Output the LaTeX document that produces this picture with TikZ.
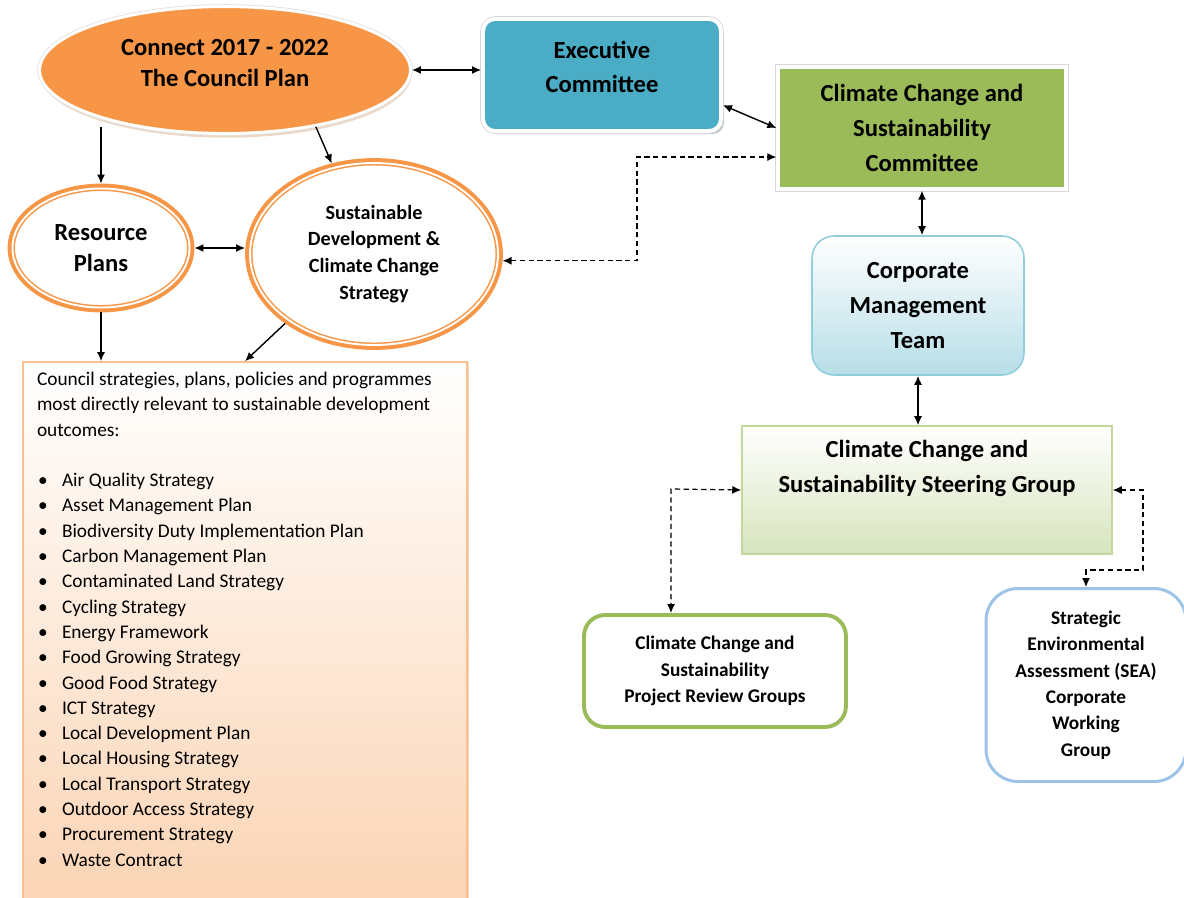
\documentclass[tikz,border=0pt]{standalone}
\usepackage{fontspec}
\setmainfont{Carlito}
\usepackage{tikz}
\usetikzlibrary{shapes,shapes.geometric,shadows,arrows.meta}

\definecolor{planorange}{HTML}{F79646}
\definecolor{execblue}{HTML}{4BACC6}
\definecolor{commgreen}{HTML}{9BBB59}
\definecolor{corpblue}{HTML}{92CDDC}
\definecolor{corpfill}{HTML}{B7DEE8}
\definecolor{steerline}{HTML}{C3D69B}
\definecolor{steerfill}{HTML}{D7E4BD}
\definecolor{seablue}{HTML}{9DC3E6}
\definecolor{listline}{HTML}{FAC090}
\definecolor{listfill}{HTML}{FBD4B4}

\newcommand{\planitem}[1]{\par\makebox[0.5cm][l]{\hspace{0.02cm}\textbullet}#1}

\begin{document}
\begin{tikzpicture}[x=0.02cm, y=-0.02cm,
      >={Latex[length=1.8mm,width=1.6mm]},
      every node/.append style={align=center, inner sep=0pt},
      oneway/.style={->, line width=0.8pt},
      twoway/.style={<->, line width=0.8pt},
      dashway/.style={<->, line width=0.7pt, dash pattern=on 3pt off 2pt}]
    \tikzstyle{big} = [font=\bfseries\fontsize{14pt}{17.6pt}\selectfont]
    \tikzstyle{small} = [font=\bfseries\fontsize{11pt}{15pt}\selectfont]
    \tikzstyle{ring} = [ellipse, draw=planorange, fill=white, line width=0.85pt,
      double=white, double distance=1.1pt, outer sep=2.8pt,
      preaction={draw=planorange, line width=5.6pt}]
    \tikzstyle{whitebox} = [draw=white, line width=2.2pt,
      preaction={draw=black!15, line width=3.2pt}]
    \useasboundingbox (0,0) rectangle (1184,897);

    % council plan and committees
    \node (plan) [big, ellipse, fill=planorange, draw=white, line width=1.7pt,
      drop shadow={shadow xshift=0.6pt, shadow yshift=-2.4pt, fill=brown!60!white},
      preaction={draw=black!12, line width=2.6pt},
      minimum width=7.42cm, minimum height=2.54cm, text depth=8.5pt]
      at (225,70) {Connect 2017 - 2022\\The Council Plan};
    \node (exec) [drop shadow={shadow xshift=1.8pt, shadow yshift=-1.8pt, fill=gray!70!execblue},
      whitebox, fill=execblue, rounded corners=0.24cm,
      minimum width=4.76cm, minimum height=2.24cm, text depth=9pt,
      font=\bfseries\fontsize{14pt}{19.3pt}\selectfont]
      at (602,75) {Executive\\Committee};
    \node (comm) [drop shadow={shadow xshift=1.8pt, shadow yshift=-1.8pt, fill=gray!80!commgreen},
      whitebox, fill=commgreen, minimum width=5.75cm, minimum height=2.43cm,
      font=\bfseries\fontsize{14pt}{19.8pt}\selectfont]
      at (922,128) {Climate Change and\\Sustainability\\Committee};

    % orange rings
    \node (res) [big, ring, minimum width=3.54cm, minimum height=2.38cm]
      at (101,248) {Resource\\Plans};
    \node (sd) [ring, minimum width=4.96cm, minimum height=3.64cm,
      font=\bfseries\fontsize{11.5pt}{15.3pt}\selectfont]
      at (374,254) {Sustainable\\Development \&\\Climate Change\\Strategy};

    % list of plans
    \node (plans) [draw=listline, line width=1pt, top color=white, bottom color=listfill,
      drop shadow={shadow xshift=1pt, shadow yshift=0pt, fill=listline!70!brown},
      inner xsep=0.28cm, inner ysep=0.2cm]
      at (245,633.5) {\parbox[t][10.46cm][t]{8.32cm}{\fontsize{11pt}{14.4pt}\selectfont
        Council strategies, plans, policies and programmes\\
        most directly relevant to sustainable development\\
        outcomes:\par\vspace{\baselineskip}
        \planitem{Air Quality Strategy}
        \planitem{Asset Management Plan}
        \planitem{Biodiversity Duty Implementation Plan}
        \planitem{Carbon Management Plan}
        \planitem{Contaminated Land Strategy}
        \planitem{Cycling Strategy}
        \planitem{Energy Framework}
        \planitem{Food Growing Strategy}
        \planitem{Good Food Strategy}
        \planitem{ICT Strategy}
        \planitem{Local Development Plan}
        \planitem{Local Housing Strategy}
        \planitem{Local Transport Strategy}
        \planitem{Outdoor Access Strategy}
        \planitem{Procurement Strategy}
        \planitem{Waste Contract}}};

    % management chain
    \node (corp) [draw=corpblue, line width=0.9pt, rounded corners=0.44cm,
      top color=white, bottom color=corpfill,
      minimum width=4.24cm, minimum height=2.78cm,
      font=\bfseries\fontsize{14pt}{19.8pt}\selectfont]
      at (918,305.5) {Corporate\\Management\\Team};
    \node (steer) [drop shadow={shadow xshift=0.8pt, shadow yshift=-0.8pt, fill=gray!60},
      draw=steerline, line width=0.9pt, top color=white, bottom color=steerfill,
      minimum width=7.4cm, minimum height=2.56cm, text depth=27pt,
      font=\bfseries\fontsize{14pt}{20.4pt}\selectfont]
      at (927,490) {Climate Change and\\Sustainability Steering Group};
    \node (proj) [small, draw=commgreen, line width=2.2pt, fill=white, rounded corners=0.42cm,
      minimum width=5.24cm, minimum height=2.24cm]
      at (715,671) {Climate Change and\\Sustainability\\Project Review Groups};
    \node (sea) [small, draw=seablue, line width=1.7pt, fill=white, rounded corners=0.64cm,
      minimum width=4cm, minimum height=3.86cm]
      at (1086,685) {Strategic\\Environmental\\Assessment (SEA)\\Corporate\\Working\\Group};

    \coordinate (bendA) at (637,157);
    \coordinate (bendB) at (671,489);
    \coordinate (bendC) at (1143,570);

    \draw[twoway] (plan.east) -- (plan.east -| exec.west);
    \draw[twoway] (exec.-14) -- (comm.west);
    \draw[oneway] ([yshift=0.16cm]plan.south -| res.north) -- (res.north);
    \draw[oneway] (plan.-32) -- (sd.115);
    \draw[twoway] (res.east) -- (res.east -| sd.west);
    \draw[oneway] (res.south) -- (res.south |- plans.north);
    \draw[oneway] (sd.218) -- (plans.north);
    \draw[dashway] (sd.-3) -| (bendA) -- (bendA -| comm.west);
    \draw[twoway] (comm.south) -- (comm.south |- corp.north);
    \draw[twoway] (corp.south) -- (corp.south |- steer.north);
    \draw[dashway] (steer.west) -- (bendB) -- (bendB |- proj.north);
    \draw[dashway] (steer.east) -| (bendC) -| (sea.north);
\end{tikzpicture}
\end{document}
